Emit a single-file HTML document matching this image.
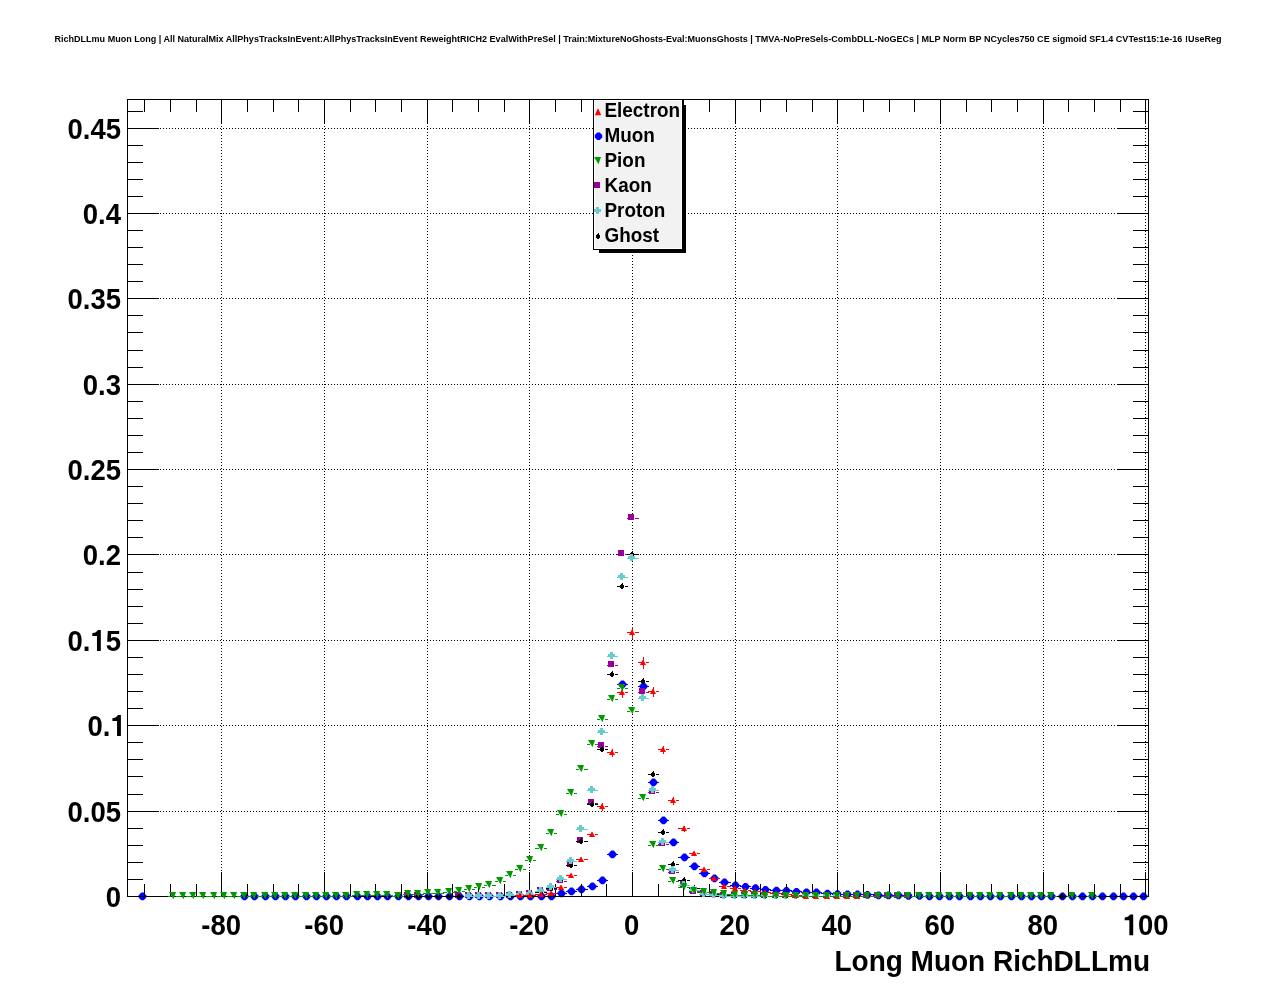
<!DOCTYPE html>
<html><head><meta charset="utf-8"><style>
html,body{margin:0;padding:0;background:#fff;width:1276px;height:996px;overflow:hidden}
svg text{font-family:"Liberation Sans",sans-serif;fill:#000}
svg{will-change:transform}
</style></head><body>
<svg width="1276" height="996" viewBox="0 0 1276 996" style="position:absolute;left:0;top:0">
<rect width="1276" height="996" fill="#fff"/>
<text x="54.5" y="41.8" font-size="9.3" font-weight="bold" textLength="1167" lengthAdjust="spacingAndGlyphs">RichDLLmu Muon Long | All NaturalMix AllPhysTracksInEvent:AllPhysTracksInEvent ReweightRICH2 EvalWithPreSel | Train:MixtureNoGhosts-Eval:MuonsGhosts | TMVA-NoPreSels-CombDLL-NoGECs | MLP Norm BP NCycles750 CE sigmoid SF1.4 CVTest15:1e-16 !UseReg</text>
<path d="M137 896.5H139M146 896.5H148M239 896.5H241M248 896.5H250M249 896.5H251M258 896.5H261M260 896.5H262M269 896.5H271M270 896.5H272M279 896.5H281M280 896.5H282M289 896.5H291M290 896.5H292M299 896.5H301M300 896.5H303M310 896.5H312M311 896.5H313M320 896.5H322M321 896.5H323M330 896.5H332M331 896.5H333M340 896.5H342M341 896.5H343M350 896.5H353M352 896.5H354M361 896.5H363M362 896.5H364M371 896.5H373M372 896.5H374M381 896.5H383M382 896.5H384M391 896.5H393M392 896.5H395M402 896.5H404M403 896.5H405M412 896.5H414M413 896.5H415M422 896.5H424M423 896.5H425M432 896.5H434M433 896.5H435M442 896.5H444M443 896.5H446M453 896.5H455M454 896.5H456M463 896.5H465M464 896.5H466M473 896.5H475M474 896.5H476M483 896.5H485M484 896.5H486M493 896.5H496M495 896.5H497M504 896.5H506M505 896.5H507M514 896.5H516M515 896.5H517M524 896.5H526M525 896.5H527M534 896.5H536M535 896.5H538M545 896.5H547M546 896.5H548M555 896.5H557M556 893.5H558M565 893.5H567M566 891.5H568M575 891.5H577M576 889.5H578M585 889.5H588M587 886.5H589M596 886.5H598M597 880.5H599M606 880.5H608M607 854.5H609M616 854.5H618M617 684.5H619M626 684.5H628M638 686.5H640M647 686.5H649M648 782.5H650M657 782.5H659M658 820.5H660M667 820.5H669M668 842.5H670M677 842.5H679M678 857.5H681M688 857.5H690M689 866.5H691M698 866.5H700M699 873.5H701M708 873.5H710M709 878.5H711M718 878.5H720M719 882.5H721M728 882.5H731M730 885.5H732M739 885.5H741M740 886.5H742M749 886.5H751M750 888.5H752M759 888.5H761M760 889.5H762M769 889.5H771M770 890.5H773M780 890.5H782M781 890.5H783M790 890.5H792M791 891.5H793M800 891.5H802M801 892.5H803M810 892.5H812M811 892.5H813M820 892.5H822M821 893.5H824M831 893.5H833M832 894.5H834M841 894.5H843M842 894.5H844M851 894.5H853M852 894.5H854M861 894.5H863M862 894.5H864M871 894.5H874M873 895.5H875M882 895.5H884M883 895.5H885M892 895.5H894M893 895.5H895M902 895.5H904M903 896.5H905M912 896.5H914M913 896.5H916M923 896.5H925M924 896.5H926M933 896.5H935M934 896.5H936M943 896.5H945M944 896.5H946M953 896.5H955M954 896.5H956M963 896.5H966M965 896.5H967M974 896.5H976M975 896.5H977M984 896.5H986M985 896.5H987M994 896.5H996M995 896.5H997M1004 896.5H1006M1005 896.5H1008M1015 896.5H1017M1016 896.5H1018M1025 896.5H1027M1026 896.5H1028M1035 896.5H1037M1036 896.5H1038M1045 896.5H1047M1046 896.5H1048M1055 896.5H1057M1056 896.5H1059M1066 896.5H1068M1067 896.5H1069M1076 896.5H1078M1077 896.5H1079M1086 896.5H1088M1087 896.5H1089M1096 896.5H1098M1097 896.5H1099M1106 896.5H1109M1108 896.5H1110M1117 896.5H1119M1118 896.5H1120M1127 896.5H1129M1128 896.5H1130M1137 896.5H1139M1138 896.5H1140M1147 896.5H1149" stroke="#0000ff" stroke-width="1" fill="none" shape-rendering="crispEdges"/>
<g fill="#0000ff"><path d="M141.25 892.60L143.75 892.60L146.20 895.15L146.20 897.65L143.75 900.20L141.25 900.20L138.80 897.65L138.80 895.15Z"/><path d="M243.25 892.60L245.75 892.60L248.20 895.15L248.20 897.65L245.75 900.20L243.25 900.20L240.80 897.65L240.80 895.15Z"/><path d="M253.25 892.60L255.75 892.60L258.20 895.15L258.20 897.65L255.75 900.20L253.25 900.20L250.80 897.65L250.80 895.15Z"/><path d="M264.25 892.60L266.75 892.60L269.20 895.15L269.20 897.65L266.75 900.20L264.25 900.20L261.80 897.65L261.80 895.15Z"/><path d="M274.25 892.60L276.75 892.60L279.20 895.15L279.20 897.65L276.75 900.20L274.25 900.20L271.80 897.65L271.80 895.15Z"/><path d="M284.25 892.60L286.75 892.60L289.20 895.15L289.20 897.65L286.75 900.20L284.25 900.20L281.80 897.65L281.80 895.15Z"/><path d="M294.25 892.60L296.75 892.60L299.20 895.15L299.20 897.65L296.75 900.20L294.25 900.20L291.80 897.65L291.80 895.15Z"/><path d="M305.25 892.60L307.75 892.60L310.20 895.15L310.20 897.65L307.75 900.20L305.25 900.20L302.80 897.65L302.80 895.15Z"/><path d="M315.25 892.60L317.75 892.60L320.20 895.15L320.20 897.65L317.75 900.20L315.25 900.20L312.80 897.65L312.80 895.15Z"/><path d="M325.25 892.60L327.75 892.60L330.20 895.15L330.20 897.65L327.75 900.20L325.25 900.20L322.80 897.65L322.80 895.15Z"/><path d="M335.25 892.60L337.75 892.60L340.20 895.15L340.20 897.65L337.75 900.20L335.25 900.20L332.80 897.65L332.80 895.15Z"/><path d="M345.25 892.60L347.75 892.60L350.20 895.15L350.20 897.65L347.75 900.20L345.25 900.20L342.80 897.65L342.80 895.15Z"/><path d="M356.25 892.60L358.75 892.60L361.20 895.15L361.20 897.65L358.75 900.20L356.25 900.20L353.80 897.65L353.80 895.15Z"/><path d="M366.25 892.60L368.75 892.60L371.20 895.15L371.20 897.65L368.75 900.20L366.25 900.20L363.80 897.65L363.80 895.15Z"/><path d="M376.25 892.60L378.75 892.60L381.20 895.15L381.20 897.65L378.75 900.20L376.25 900.20L373.80 897.65L373.80 895.15Z"/><path d="M386.25 892.60L388.75 892.60L391.20 895.15L391.20 897.65L388.75 900.20L386.25 900.20L383.80 897.65L383.80 895.15Z"/><path d="M397.25 892.60L399.75 892.60L402.20 895.15L402.20 897.65L399.75 900.20L397.25 900.20L394.80 897.65L394.80 895.15Z"/><path d="M407.25 892.60L409.75 892.60L412.20 895.15L412.20 897.65L409.75 900.20L407.25 900.20L404.80 897.65L404.80 895.15Z"/><path d="M417.25 892.60L419.75 892.60L422.20 895.15L422.20 897.65L419.75 900.20L417.25 900.20L414.80 897.65L414.80 895.15Z"/><path d="M427.25 892.60L429.75 892.60L432.20 895.15L432.20 897.65L429.75 900.20L427.25 900.20L424.80 897.65L424.80 895.15Z"/><path d="M437.25 892.60L439.75 892.60L442.20 895.15L442.20 897.65L439.75 900.20L437.25 900.20L434.80 897.65L434.80 895.15Z"/><path d="M448.25 892.60L450.75 892.60L453.20 895.15L453.20 897.65L450.75 900.20L448.25 900.20L445.80 897.65L445.80 895.15Z"/><path d="M458.25 892.60L460.75 892.60L463.20 895.15L463.20 897.65L460.75 900.20L458.25 900.20L455.80 897.65L455.80 895.15Z"/><path d="M468.25 892.60L470.75 892.60L473.20 895.15L473.20 897.65L470.75 900.20L468.25 900.20L465.80 897.65L465.80 895.15Z"/><path d="M478.25 892.60L480.75 892.60L483.20 895.15L483.20 897.65L480.75 900.20L478.25 900.20L475.80 897.65L475.80 895.15Z"/><path d="M488.25 892.60L490.75 892.60L493.20 895.15L493.20 897.65L490.75 900.20L488.25 900.20L485.80 897.65L485.80 895.15Z"/><path d="M499.25 892.60L501.75 892.60L504.20 895.15L504.20 897.65L501.75 900.20L499.25 900.20L496.80 897.65L496.80 895.15Z"/><path d="M509.25 892.60L511.75 892.60L514.20 895.15L514.20 897.65L511.75 900.20L509.25 900.20L506.80 897.65L506.80 895.15Z"/><path d="M519.25 892.60L521.75 892.60L524.20 895.15L524.20 897.65L521.75 900.20L519.25 900.20L516.80 897.65L516.80 895.15Z"/><path d="M529.25 892.60L531.75 892.60L534.20 895.15L534.20 897.65L531.75 900.20L529.25 900.20L526.80 897.65L526.80 895.15Z"/><path d="M540.25 892.60L542.75 892.60L545.20 895.15L545.20 897.65L542.75 900.20L540.25 900.20L537.80 897.65L537.80 895.15Z"/><path d="M550.25 892.60L552.75 892.60L555.20 895.15L555.20 897.65L552.75 900.20L550.25 900.20L547.80 897.65L547.80 895.15Z"/><path d="M560.25 889.60L562.75 889.60L565.20 892.15L565.20 894.65L562.75 897.20L560.25 897.20L557.80 894.65L557.80 892.15Z"/><path d="M570.25 887.60L572.75 887.60L575.20 890.15L575.20 892.65L572.75 895.20L570.25 895.20L567.80 892.65L567.80 890.15Z"/><path d="M580.25 885.60L582.75 885.60L585.20 888.15L585.20 890.65L582.75 893.20L580.25 893.20L577.80 890.65L577.80 888.15Z"/><path d="M591.25 882.60L593.75 882.60L596.20 885.15L596.20 887.65L593.75 890.20L591.25 890.20L588.80 887.65L588.80 885.15Z"/><path d="M601.25 876.60L603.75 876.60L606.20 879.15L606.20 881.65L603.75 884.20L601.25 884.20L598.80 881.65L598.80 879.15Z"/><path d="M611.25 850.60L613.75 850.60L616.20 853.15L616.20 855.65L613.75 858.20L611.25 858.20L608.80 855.65L608.80 853.15Z"/><path d="M621.25 680.60L623.75 680.60L626.20 683.15L626.20 685.65L623.75 688.20L621.25 688.20L618.80 685.65L618.80 683.15Z"/><path d="M642.25 682.60L644.75 682.60L647.20 685.15L647.20 687.65L644.75 690.20L642.25 690.20L639.80 687.65L639.80 685.15Z"/><path d="M652.25 778.60L654.75 778.60L657.20 781.15L657.20 783.65L654.75 786.20L652.25 786.20L649.80 783.65L649.80 781.15Z"/><path d="M662.25 816.60L664.75 816.60L667.20 819.15L667.20 821.65L664.75 824.20L662.25 824.20L659.80 821.65L659.80 819.15Z"/><path d="M672.25 838.60L674.75 838.60L677.20 841.15L677.20 843.65L674.75 846.20L672.25 846.20L669.80 843.65L669.80 841.15Z"/><path d="M683.25 853.60L685.75 853.60L688.20 856.15L688.20 858.65L685.75 861.20L683.25 861.20L680.80 858.65L680.80 856.15Z"/><path d="M693.25 862.60L695.75 862.60L698.20 865.15L698.20 867.65L695.75 870.20L693.25 870.20L690.80 867.65L690.80 865.15Z"/><path d="M703.25 869.60L705.75 869.60L708.20 872.15L708.20 874.65L705.75 877.20L703.25 877.20L700.80 874.65L700.80 872.15Z"/><path d="M713.25 874.60L715.75 874.60L718.20 877.15L718.20 879.65L715.75 882.20L713.25 882.20L710.80 879.65L710.80 877.15Z"/><path d="M723.25 878.60L725.75 878.60L728.20 881.15L728.20 883.65L725.75 886.20L723.25 886.20L720.80 883.65L720.80 881.15Z"/><path d="M734.25 881.40L736.75 881.40L739.20 883.95L739.20 886.45L736.75 889.00L734.25 889.00L731.80 886.45L731.80 883.95Z"/><path d="M744.25 882.90L746.75 882.90L749.20 885.45L749.20 887.95L746.75 890.50L744.25 890.50L741.80 887.95L741.80 885.45Z"/><path d="M754.25 884.20L756.75 884.20L759.20 886.75L759.20 889.25L756.75 891.80L754.25 891.80L751.80 889.25L751.80 886.75Z"/><path d="M764.25 886.00L766.75 886.00L769.20 888.55L769.20 891.05L766.75 893.60L764.25 893.60L761.80 891.05L761.80 888.55Z"/><path d="M775.25 886.70L777.75 886.70L780.20 889.25L780.20 891.75L777.75 894.30L775.25 894.30L772.80 891.75L772.80 889.25Z"/><path d="M785.25 887.00L787.75 887.00L790.20 889.55L790.20 892.05L787.75 894.60L785.25 894.60L782.80 892.05L782.80 889.55Z"/><path d="M795.25 887.90L797.75 887.90L800.20 890.45L800.20 892.95L797.75 895.50L795.25 895.50L792.80 892.95L792.80 890.45Z"/><path d="M805.25 888.50L807.75 888.50L810.20 891.05L810.20 893.55L807.75 896.10L805.25 896.10L802.80 893.55L802.80 891.05Z"/><path d="M815.25 888.60L817.75 888.60L820.20 891.15L820.20 893.65L817.75 896.20L815.25 896.20L812.80 893.65L812.80 891.15Z"/><path d="M826.25 889.80L828.75 889.80L831.20 892.35L831.20 894.85L828.75 897.40L826.25 897.40L823.80 894.85L823.80 892.35Z"/><path d="M836.25 890.20L838.75 890.20L841.20 892.75L841.20 895.25L838.75 897.80L836.25 897.80L833.80 895.25L833.80 892.75Z"/><path d="M846.25 890.40L848.75 890.40L851.20 892.95L851.20 895.45L848.75 898.00L846.25 898.00L843.80 895.45L843.80 892.95Z"/><path d="M856.25 890.60L858.75 890.60L861.20 893.15L861.20 895.65L858.75 898.20L856.25 898.20L853.80 895.65L853.80 893.15Z"/><path d="M866.25 891.10L868.75 891.10L871.20 893.65L871.20 896.15L868.75 898.70L866.25 898.70L863.80 896.15L863.80 893.65Z"/><path d="M877.25 891.60L879.75 891.60L882.20 894.15L882.20 896.65L879.75 899.20L877.25 899.20L874.80 896.65L874.80 894.15Z"/><path d="M887.25 891.60L889.75 891.60L892.20 894.15L892.20 896.65L889.75 899.20L887.25 899.20L884.80 896.65L884.80 894.15Z"/><path d="M897.25 891.60L899.75 891.60L902.20 894.15L902.20 896.65L899.75 899.20L897.25 899.20L894.80 896.65L894.80 894.15Z"/><path d="M907.25 892.10L909.75 892.10L912.20 894.65L912.20 897.15L909.75 899.70L907.25 899.70L904.80 897.15L904.80 894.65Z"/><path d="M918.25 892.10L920.75 892.10L923.20 894.65L923.20 897.15L920.75 899.70L918.25 899.70L915.80 897.15L915.80 894.65Z"/><path d="M928.25 892.60L930.75 892.60L933.20 895.15L933.20 897.65L930.75 900.20L928.25 900.20L925.80 897.65L925.80 895.15Z"/><path d="M938.25 892.60L940.75 892.60L943.20 895.15L943.20 897.65L940.75 900.20L938.25 900.20L935.80 897.65L935.80 895.15Z"/><path d="M948.25 892.60L950.75 892.60L953.20 895.15L953.20 897.65L950.75 900.20L948.25 900.20L945.80 897.65L945.80 895.15Z"/><path d="M958.25 892.60L960.75 892.60L963.20 895.15L963.20 897.65L960.75 900.20L958.25 900.20L955.80 897.65L955.80 895.15Z"/><path d="M969.25 892.60L971.75 892.60L974.20 895.15L974.20 897.65L971.75 900.20L969.25 900.20L966.80 897.65L966.80 895.15Z"/><path d="M979.25 892.60L981.75 892.60L984.20 895.15L984.20 897.65L981.75 900.20L979.25 900.20L976.80 897.65L976.80 895.15Z"/><path d="M989.25 892.60L991.75 892.60L994.20 895.15L994.20 897.65L991.75 900.20L989.25 900.20L986.80 897.65L986.80 895.15Z"/><path d="M999.25 892.60L1001.75 892.60L1004.20 895.15L1004.20 897.65L1001.75 900.20L999.25 900.20L996.80 897.65L996.80 895.15Z"/><path d="M1010.25 892.60L1012.75 892.60L1015.20 895.15L1015.20 897.65L1012.75 900.20L1010.25 900.20L1007.80 897.65L1007.80 895.15Z"/><path d="M1020.25 892.60L1022.75 892.60L1025.20 895.15L1025.20 897.65L1022.75 900.20L1020.25 900.20L1017.80 897.65L1017.80 895.15Z"/><path d="M1030.25 892.60L1032.75 892.60L1035.20 895.15L1035.20 897.65L1032.75 900.20L1030.25 900.20L1027.80 897.65L1027.80 895.15Z"/><path d="M1040.25 892.60L1042.75 892.60L1045.20 895.15L1045.20 897.65L1042.75 900.20L1040.25 900.20L1037.80 897.65L1037.80 895.15Z"/><path d="M1050.25 892.60L1052.75 892.60L1055.20 895.15L1055.20 897.65L1052.75 900.20L1050.25 900.20L1047.80 897.65L1047.80 895.15Z"/><path d="M1061.25 892.60L1063.75 892.60L1066.20 895.15L1066.20 897.65L1063.75 900.20L1061.25 900.20L1058.80 897.65L1058.80 895.15Z"/><path d="M1071.25 892.60L1073.75 892.60L1076.20 895.15L1076.20 897.65L1073.75 900.20L1071.25 900.20L1068.80 897.65L1068.80 895.15Z"/><path d="M1081.25 892.60L1083.75 892.60L1086.20 895.15L1086.20 897.65L1083.75 900.20L1081.25 900.20L1078.80 897.65L1078.80 895.15Z"/><path d="M1091.25 892.60L1093.75 892.60L1096.20 895.15L1096.20 897.65L1093.75 900.20L1091.25 900.20L1088.80 897.65L1088.80 895.15Z"/><path d="M1101.25 892.60L1103.75 892.60L1106.20 895.15L1106.20 897.65L1103.75 900.20L1101.25 900.20L1098.80 897.65L1098.80 895.15Z"/><path d="M1112.25 892.60L1114.75 892.60L1117.20 895.15L1117.20 897.65L1114.75 900.20L1112.25 900.20L1109.80 897.65L1109.80 895.15Z"/><path d="M1122.25 892.60L1124.75 892.60L1127.20 895.15L1127.20 897.65L1124.75 900.20L1122.25 900.20L1119.80 897.65L1119.80 895.15Z"/><path d="M1132.25 892.60L1134.75 892.60L1137.20 895.15L1137.20 897.65L1134.75 900.20L1132.25 900.20L1129.80 897.65L1129.80 895.15Z"/><path d="M1142.25 892.60L1144.75 892.60L1147.20 895.15L1147.20 897.65L1144.75 900.20L1142.25 900.20L1139.80 897.65L1139.80 895.15Z"/></g>
<path d="M221.5 99V896M324.5 99V896M427.5 99V896M529.5 99V896M632.5 99V896M735.5 99V896M837.5 99V896M940.5 99V896M1043.5 99V896M1145.5 99V896M127 896.5H1149M127 811.5H1149M127 725.5H1149M127 640.5H1149M127 554.5H1149M127 469.5H1149M127 384.5H1149M127 298.5H1149M127 213.5H1149M127 128.5H1149" stroke="#000" stroke-width="1" stroke-dasharray="1 2" fill="none" shape-rendering="crispEdges"/>
<path d="M144.5 897V884M144.5 99V112M170.5 897V884M170.5 99V112M196.5 897V884M196.5 99V112M221.5 897V872M221.5 99V124M247.5 897V884M247.5 99V112M273.5 897V884M273.5 99V112M298.5 897V884M298.5 99V112M324.5 897V872M324.5 99V124M350.5 897V884M350.5 99V112M375.5 897V884M375.5 99V112M401.5 897V884M401.5 99V112M427.5 897V872M427.5 99V124M452.5 897V884M452.5 99V112M478.5 897V884M478.5 99V112M504.5 897V884M504.5 99V112M529.5 897V872M529.5 99V124M555.5 897V884M555.5 99V112M581.5 897V884M581.5 99V112M606.5 897V884M606.5 99V112M632.5 897V872M632.5 99V124M658.5 897V884M658.5 99V112M683.5 897V884M683.5 99V112M709.5 897V884M709.5 99V112M735.5 897V872M735.5 99V124M760.5 897V884M760.5 99V112M786.5 897V884M786.5 99V112M812.5 897V884M812.5 99V112M837.5 897V872M837.5 99V124M863.5 897V884M863.5 99V112M889.5 897V884M889.5 99V112M914.5 897V884M914.5 99V112M940.5 897V872M940.5 99V124M966.5 897V884M966.5 99V112M991.5 897V884M991.5 99V112M1017.5 897V884M1017.5 99V112M1043.5 897V872M1043.5 99V124M1068.5 897V884M1068.5 99V112M1094.5 897V884M1094.5 99V112M1120.5 897V884M1120.5 99V112M1145.5 897V872M1145.5 99V124M127 896.5H159M1149 896.5H1117M127 879.5H143M1149 879.5H1133M127 862.5H143M1149 862.5H1133M127 845.5H143M1149 845.5H1133M127 828.5H143M1149 828.5H1133M127 811.5H159M1149 811.5H1117M127 794.5H143M1149 794.5H1133M127 776.5H143M1149 776.5H1133M127 759.5H143M1149 759.5H1133M127 742.5H143M1149 742.5H1133M127 725.5H159M1149 725.5H1117M127 708.5H143M1149 708.5H1133M127 691.5H143M1149 691.5H1133M127 674.5H143M1149 674.5H1133M127 657.5H143M1149 657.5H1133M127 640.5H159M1149 640.5H1117M127 623.5H143M1149 623.5H1133M127 606.5H143M1149 606.5H1133M127 589.5H143M1149 589.5H1133M127 572.5H143M1149 572.5H1133M127 554.5H159M1149 554.5H1117M127 537.5H143M1149 537.5H1133M127 520.5H143M1149 520.5H1133M127 503.5H143M1149 503.5H1133M127 486.5H143M1149 486.5H1133M127 469.5H159M1149 469.5H1117M127 452.5H143M1149 452.5H1133M127 435.5H143M1149 435.5H1133M127 418.5H143M1149 418.5H1133M127 401.5H143M1149 401.5H1133M127 384.5H159M1149 384.5H1117M127 367.5H143M1149 367.5H1133M127 350.5H143M1149 350.5H1133M127 332.5H143M1149 332.5H1133M127 315.5H143M1149 315.5H1133M127 298.5H159M1149 298.5H1117M127 281.5H143M1149 281.5H1133M127 264.5H143M1149 264.5H1133M127 247.5H143M1149 247.5H1133M127 230.5H143M1149 230.5H1133M127 213.5H159M1149 213.5H1117M127 196.5H143M1149 196.5H1133M127 179.5H143M1149 179.5H1133M127 162.5H143M1149 162.5H1133M127 145.5H143M1149 145.5H1133M127 128.5H159M1149 128.5H1117M127 111.5H143M1149 111.5H1133" stroke="#000" stroke-width="1" fill="none" shape-rendering="crispEdges"/>
<rect x="127.5" y="99.5" width="1021" height="797" fill="none" stroke="#000" stroke-width="1" shape-rendering="crispEdges"/>
<g font-size="27.5" font-weight="bold">
<text text-anchor="end" transform="translate(121 907.1) scale(1 1.09)">0</text>
<text text-anchor="end" transform="translate(121 822.1) scale(1 1.09)">0.05</text>
<g transform="translate(0 736.1) scale(1 1.09)"><text x="87.57" y="0">0.</text><path d="M117.05 0.00L120.90 0.00L120.90 -19.25L117.99 -19.25L116.97 -18.15L115.46 -17.11L112.40 -16.28L112.40 -13.80L117.05 -13.80Z" fill="#000"/></g>
<g transform="translate(0 651.1) scale(1 1.09)"><text x="67.48" y="0">0.</text><path d="M96.96 0.00L100.81 0.00L100.81 -19.25L97.90 -19.25L96.88 -18.15L95.37 -17.11L92.32 -16.28L92.32 -13.80L96.96 -13.80Z" fill="#000"/><text x="105.71" y="0">5</text></g>
<text text-anchor="end" transform="translate(121 565.1) scale(1 1.09)">0.2</text>
<text text-anchor="end" transform="translate(121 480.1) scale(1 1.09)">0.25</text>
<text text-anchor="end" transform="translate(121 395.1) scale(1 1.09)">0.3</text>
<text text-anchor="end" transform="translate(121 309.1) scale(1 1.09)">0.35</text>
<text text-anchor="end" transform="translate(121 224.1) scale(1 1.09)">0.4</text>
<text text-anchor="end" transform="translate(121 139.1) scale(1 1.09)">0.45</text>
</g>
<g font-size="27.5" font-weight="bold" text-anchor="middle">
<text transform="translate(221.1 935.2) scale(1 1.08)">-80</text>
<text transform="translate(324.1 935.2) scale(1 1.08)">-60</text>
<text transform="translate(427.1 935.2) scale(1 1.08)">-40</text>
<text transform="translate(529.1 935.2) scale(1 1.08)">-20</text>
<text transform="translate(631.75 935.2) scale(1 1.08)">0</text>
<text transform="translate(734.75 935.2) scale(1 1.08)">20</text>
<text transform="translate(836.75 935.2) scale(1 1.08)">40</text>
<text transform="translate(939.75 935.2) scale(1 1.08)">60</text>
<text transform="translate(1042.75 935.2) scale(1 1.08)">80</text>
<g transform="translate(0 935.2) scale(1 1.08)"><path d="M1129.35 0.00L1133.19 0.00L1133.19 -19.25L1130.28 -19.25L1129.26 -18.15L1127.75 -17.11L1124.70 -16.28L1124.70 -13.80L1129.35 -13.80Z" fill="#000"/><text text-anchor="start" x="1138.09" y="0">00</text></g>
</g>
<text transform="translate(1150 971) scale(1 1.03)" font-size="28" font-weight="bold" text-anchor="end">Long Muon RichDLLmu</text>
<path d="M403 896.5H404M411 896.5H414M413 896.5H414M421 896.5H424M454 896.5H455M462 896.5H465M464 896.5H465M472 896.5H475M474 896.5H475M482 896.5H485M484 896.5H485M492 896.5H496M495 896.5H496M503 896.5H506M505 896.5H506M513 896.5H516M515 895.5H516M523 895.5H526M525 894.5H526M533 894.5H536M535 891.5H537M544 891.5H547M546 889.5H547M554 889.5H557M556 881.5H557M564 881.5H567M566 865.5H567M574 865.5H577M576 841.5H577M584 841.5H588M587 803.5H588M595 803.5H598M597 746.5H598M605 746.5H608M607 665.5H608M615 665.5H618M617 554.5H618M625 554.5H628M627 518.5H628M635 518.5H639M638 692.5H639M646 692.5H649M648 792.5H649M656 792.5H659M658 844.5H659M666 844.5H669M668 872.5H669M676 872.5H679M678 885.5H680M687 885.5H690M689 892.5H690M697 892.5H700M699 894.5H700M707 894.5H710M709 895.5H710M717 895.5H720M719 896.5H720M727 896.5H731M730 896.5H731M738 896.5H741M740 896.5H741M748 896.5H751M750 896.5H751M758 896.5H761M760 896.5H761M768 896.5H771M770 896.5H772M779 896.5H782M781 896.5H782M789 896.5H792M791 896.5H792M799 896.5H802M801 896.5H802M809 896.5H812M811 896.5H812M819 896.5H822M821 896.5H823M830 896.5H833M832 896.5H833M840 896.5H843M842 896.5H843M850 896.5H853M852 896.5H853M860 896.5H863M862 896.5H863M870 896.5H874M873 896.5H874M881 896.5H884M883 896.5H884M891 896.5H894M893 896.5H894M901 896.5H904M903 896.5H904M911 896.5H914" stroke="#990099" stroke-width="1" fill="none" shape-rendering="crispEdges"/>
<g fill="#990099" shape-rendering="crispEdges"><rect x="404" y="892" width="6" height="6"/><rect x="414" y="892" width="6" height="6"/><rect x="455" y="892" width="6" height="6"/><rect x="465" y="892" width="6" height="6"/><rect x="475" y="892" width="6" height="6"/><rect x="485" y="892" width="6" height="6"/><rect x="496" y="892" width="6" height="6"/><rect x="506" y="892" width="6" height="6"/><rect x="516" y="891" width="6" height="6"/><rect x="526" y="890" width="6" height="6"/><rect x="537" y="887" width="6" height="6"/><rect x="547" y="885" width="6" height="6"/><rect x="557" y="877" width="6" height="6"/><rect x="567" y="861" width="6" height="6"/><rect x="577" y="837" width="6" height="6"/><rect x="588" y="799" width="6" height="6"/><rect x="598" y="742" width="6" height="6"/><rect x="608" y="661" width="6" height="6"/><rect x="618" y="550" width="6" height="6"/><rect x="628" y="514" width="6" height="6"/><rect x="639" y="688" width="6" height="6"/><rect x="649" y="788" width="6" height="6"/><rect x="659" y="840" width="6" height="6"/><rect x="669" y="868" width="6" height="6"/><rect x="680" y="881" width="6" height="6"/><rect x="690" y="888" width="6" height="6"/><rect x="700" y="890" width="6" height="6"/><rect x="710" y="891" width="6" height="6"/><rect x="720" y="892" width="6" height="6"/><rect x="731" y="892" width="6" height="6"/><rect x="741" y="892" width="6" height="6"/><rect x="751" y="892" width="6" height="6"/><rect x="761" y="892" width="6" height="6"/><rect x="772" y="892" width="6" height="6"/><rect x="782" y="892" width="6" height="6"/><rect x="792" y="892" width="6" height="6"/><rect x="802" y="892" width="6" height="6"/><rect x="812" y="892" width="6" height="6"/><rect x="823" y="892" width="6" height="6"/><rect x="833" y="892" width="6" height="6"/><rect x="843" y="892" width="6" height="6"/><rect x="853" y="892" width="6" height="6"/><rect x="863" y="892" width="6" height="6"/><rect x="874" y="892" width="6" height="6"/><rect x="884" y="892" width="6" height="6"/><rect x="894" y="892" width="6" height="6"/><rect x="904" y="892" width="6" height="6"/></g>
<path d="M392 896.5H396M401 896.5H404M403 896.5H406M411 896.5H414M413 896.5H416M421 896.5H424M423 896.5H426M431 896.5H434M433 896.5H436M441 896.5H444M443 896.5H447M452 896.5H455M454 896.5H457M462 896.5H465M464 896.5H467M472 896.5H475M474 896.5H477M482 896.5H485M484 896.5H487M492 896.5H496M495 896.5H498M503 896.5H506M505 896.5H508M513 896.5H516M515 895.5H518M523 895.5H526M525 894.5H528M533 894.5H536M535 892.5H539M544 892.5H547M546 888.5H549M554 888.5H557M556 879.5H559M564 879.5H567M566 865.5H569M574 865.5H577M576 841.5H579M584 841.5H588M587 804.5H590M595 804.5H598M597 749.5H600M605 749.5H608M607 674.5H610M615 674.5H618M617 586.5H620M625 586.5H628M627 554.5H630M635 554.5H639M638 681.5H641M646 681.5H649M648 774.5H651M656 774.5H659M658 832.5H661M666 832.5H669M668 864.5H671M676 864.5H679M678 880.5H682M687 880.5H690M689 888.5H692M697 888.5H700M699 892.5H702M707 892.5H710M709 894.5H712M717 894.5H720M719 895.5H722M727 895.5H731M730 896.5H733M738 896.5H741M740 896.5H743M748 896.5H751M750 896.5H753M758 896.5H761M760 896.5H763M768 896.5H771M770 896.5H774M779 896.5H782M781 896.5H784M789 896.5H792M791 896.5H794M799 896.5H802M801 896.5H804M809 896.5H812M811 896.5H814M819 896.5H822M821 896.5H825M830 896.5H833M832 896.5H835M840 896.5H843M1056 896.5H1060M1065 896.5H1068" stroke="#000000" stroke-width="1" fill="none" shape-rendering="crispEdges"/>
<g fill="#000000" shape-rendering="crispEdges"><path d="M398 893h1v1h-1zM397 894h2v1h-2zM396 895h4v3h-4zM397 898h2v1h-2z"/><path d="M408 893h1v1h-1zM407 894h2v1h-2zM406 895h4v3h-4zM407 898h2v1h-2z"/><path d="M418 893h1v1h-1zM417 894h2v1h-2zM416 895h4v3h-4zM417 898h2v1h-2z"/><path d="M428 893h1v1h-1zM427 894h2v1h-2zM426 895h4v3h-4zM427 898h2v1h-2z"/><path d="M438 893h1v1h-1zM437 894h2v1h-2zM436 895h4v3h-4zM437 898h2v1h-2z"/><path d="M449 893h1v1h-1zM448 894h2v1h-2zM447 895h4v3h-4zM448 898h2v1h-2z"/><path d="M459 893h1v1h-1zM458 894h2v1h-2zM457 895h4v3h-4zM458 898h2v1h-2z"/><path d="M469 893h1v1h-1zM468 894h2v1h-2zM467 895h4v3h-4zM468 898h2v1h-2z"/><path d="M479 893h1v1h-1zM478 894h2v1h-2zM477 895h4v3h-4zM478 898h2v1h-2z"/><path d="M489 893h1v1h-1zM488 894h2v1h-2zM487 895h4v3h-4zM488 898h2v1h-2z"/><path d="M500 893h1v1h-1zM499 894h2v1h-2zM498 895h4v3h-4zM499 898h2v1h-2z"/><path d="M510 893h1v1h-1zM509 894h2v1h-2zM508 895h4v3h-4zM509 898h2v1h-2z"/><path d="M520 892h1v1h-1zM519 893h2v1h-2zM518 894h4v3h-4zM519 897h2v1h-2z"/><path d="M530 891h1v1h-1zM529 892h2v1h-2zM528 893h4v3h-4zM529 896h2v1h-2z"/><path d="M541 889h1v1h-1zM540 890h2v1h-2zM539 891h4v3h-4zM540 894h2v1h-2z"/><path d="M551 885h1v1h-1zM550 886h2v1h-2zM549 887h4v3h-4zM550 890h2v1h-2z"/><path d="M561 876h1v1h-1zM560 877h2v1h-2zM559 878h4v3h-4zM560 881h2v1h-2z"/><path d="M571 862h1v1h-1zM570 863h2v1h-2zM569 864h4v3h-4zM570 867h2v1h-2z"/><path d="M581 838h1v1h-1zM580 839h2v1h-2zM579 840h4v3h-4zM580 843h2v1h-2z"/><path d="M592 801h1v1h-1zM591 802h2v1h-2zM590 803h4v3h-4zM591 806h2v1h-2z"/><path d="M602 746h1v1h-1zM601 747h2v1h-2zM600 748h4v3h-4zM601 751h2v1h-2z"/><path d="M612 671h1v1h-1zM611 672h2v1h-2zM610 673h4v3h-4zM611 676h2v1h-2z"/><path d="M622 583h1v1h-1zM621 584h2v1h-2zM620 585h4v3h-4zM621 588h2v1h-2z"/><path d="M632 551h1v1h-1zM631 552h2v1h-2zM630 553h4v3h-4zM631 556h2v1h-2z"/><path d="M643 678h1v1h-1zM642 679h2v1h-2zM641 680h4v3h-4zM642 683h2v1h-2z"/><path d="M653 771h1v1h-1zM652 772h2v1h-2zM651 773h4v3h-4zM652 776h2v1h-2z"/><path d="M663 829h1v1h-1zM662 830h2v1h-2zM661 831h4v3h-4zM662 834h2v1h-2z"/><path d="M673 861h1v1h-1zM672 862h2v1h-2zM671 863h4v3h-4zM672 866h2v1h-2z"/><path d="M684 877h1v1h-1zM683 878h2v1h-2zM682 879h4v3h-4zM683 882h2v1h-2z"/><path d="M694 885h1v1h-1zM693 886h2v1h-2zM692 887h4v3h-4zM693 890h2v1h-2z"/><path d="M704 889h1v1h-1zM703 890h2v1h-2zM702 891h4v3h-4zM703 894h2v1h-2z"/><path d="M714 891h1v1h-1zM713 892h2v1h-2zM712 893h4v3h-4zM713 896h2v1h-2z"/><path d="M724 892h1v1h-1zM723 893h2v1h-2zM722 894h4v3h-4zM723 897h2v1h-2z"/><path d="M735 893h1v1h-1zM734 894h2v1h-2zM733 895h4v3h-4zM734 898h2v1h-2z"/><path d="M745 893h1v1h-1zM744 894h2v1h-2zM743 895h4v3h-4zM744 898h2v1h-2z"/><path d="M755 893h1v1h-1zM754 894h2v1h-2zM753 895h4v3h-4zM754 898h2v1h-2z"/><path d="M765 893h1v1h-1zM764 894h2v1h-2zM763 895h4v3h-4zM764 898h2v1h-2z"/><path d="M776 893h1v1h-1zM775 894h2v1h-2zM774 895h4v3h-4zM775 898h2v1h-2z"/><path d="M786 893h1v1h-1zM785 894h2v1h-2zM784 895h4v3h-4zM785 898h2v1h-2z"/><path d="M796 893h1v1h-1zM795 894h2v1h-2zM794 895h4v3h-4zM795 898h2v1h-2z"/><path d="M806 893h1v1h-1zM805 894h2v1h-2zM804 895h4v3h-4zM805 898h2v1h-2z"/><path d="M816 893h1v1h-1zM815 894h2v1h-2zM814 895h4v3h-4zM815 898h2v1h-2z"/><path d="M827 893h1v1h-1zM826 894h2v1h-2zM825 895h4v3h-4zM826 898h2v1h-2z"/><path d="M837 893h1v1h-1zM836 894h2v1h-2zM835 895h4v3h-4zM836 898h2v1h-2z"/><path d="M1062 893h1v1h-1zM1061 894h2v1h-2zM1060 895h4v3h-4zM1061 898h2v1h-2z"/></g>
<path d="M464 896.5H475M474 896.5H485M484 896.5H496M495 896.5H506M505 895.5H516M515 895.5H526M525 894.5H536M535 891.5H547M546 887.5H557M556 879.5H567M566 861.5H577M576 829.5H588M587 790.5H598M597 732.5H608M607 656.5H618M617 577.5H628M627 558.5H639M638 698.5H649M648 790.5H659M658 842.5H669M668 870.5H679M678 885.5H690M689 890.5H700M699 894.5H710M709 895.5H720M719 896.5H731M730 896.5H741M740 896.5H751M750 896.5H761M760 896.5H771M770 896.5H782M781 896.5H792M791 896.5H802M801 896.5H812M811 896.5H822M821 896.5H833M832 896.5H843" stroke="#66cccc" stroke-width="1" fill="none" shape-rendering="crispEdges"/>
<g fill="#66cccc" shape-rendering="crispEdges"><path d="M467 892h3v2h2v3h-2v2h-3v-2h-2v-3h2z"/><path d="M477 892h3v2h2v3h-2v2h-3v-2h-2v-3h2z"/><path d="M487 892h3v2h2v3h-2v2h-3v-2h-2v-3h2z"/><path d="M498 892h3v2h2v3h-2v2h-3v-2h-2v-3h2z"/><path d="M508 891h3v2h2v3h-2v2h-3v-2h-2v-3h2z"/><path d="M518 891h3v2h2v3h-2v2h-3v-2h-2v-3h2z"/><path d="M528 890h3v2h2v3h-2v2h-3v-2h-2v-3h2z"/><path d="M539 887h3v2h2v3h-2v2h-3v-2h-2v-3h2z"/><path d="M549 883h3v2h2v3h-2v2h-3v-2h-2v-3h2z"/><path d="M559 875h3v2h2v3h-2v2h-3v-2h-2v-3h2z"/><path d="M569 857h3v2h2v3h-2v2h-3v-2h-2v-3h2z"/><path d="M579 825h3v2h2v3h-2v2h-3v-2h-2v-3h2z"/><path d="M590 786h3v2h2v3h-2v2h-3v-2h-2v-3h2z"/><path d="M600 728h3v2h2v3h-2v2h-3v-2h-2v-3h2z"/><path d="M610 652h3v2h2v3h-2v2h-3v-2h-2v-3h2z"/><path d="M620 573h3v2h2v3h-2v2h-3v-2h-2v-3h2z"/><path d="M630 554h3v2h2v3h-2v2h-3v-2h-2v-3h2z"/><path d="M641 694h3v2h2v3h-2v2h-3v-2h-2v-3h2z"/><path d="M651 786h3v2h2v3h-2v2h-3v-2h-2v-3h2z"/><path d="M661 838h3v2h2v3h-2v2h-3v-2h-2v-3h2z"/><path d="M671 866h3v2h2v3h-2v2h-3v-2h-2v-3h2z"/><path d="M682 881h3v2h2v3h-2v2h-3v-2h-2v-3h2z"/><path d="M692 886h3v2h2v3h-2v2h-3v-2h-2v-3h2z"/><path d="M702 890h3v2h2v3h-2v2h-3v-2h-2v-3h2z"/><path d="M712 891h3v2h2v3h-2v2h-3v-2h-2v-3h2z"/><path d="M722 892h3v2h2v3h-2v2h-3v-2h-2v-3h2z"/><path d="M733 892h3v2h2v3h-2v2h-3v-2h-2v-3h2z"/><path d="M743 892h3v2h2v3h-2v2h-3v-2h-2v-3h2z"/><path d="M753 892h3v2h2v3h-2v2h-3v-2h-2v-3h2z"/><path d="M763 892h3v2h2v3h-2v2h-3v-2h-2v-3h2z"/><path d="M774 892h3v2h2v3h-2v2h-3v-2h-2v-3h2z"/><path d="M784 892h3v2h2v3h-2v2h-3v-2h-2v-3h2z"/><path d="M794 892h3v2h2v3h-2v2h-3v-2h-2v-3h2z"/><path d="M804 892h3v2h2v3h-2v2h-3v-2h-2v-3h2z"/><path d="M814 892h3v2h2v3h-2v2h-3v-2h-2v-3h2z"/><path d="M825 892h3v2h2v3h-2v2h-3v-2h-2v-3h2z"/><path d="M835 892h3v2h2v3h-2v2h-3v-2h-2v-3h2z"/></g>
<path d="M515 895.5H519M523 895.5H526M525 895.5H529M533 895.5H536M535 894.5H540M544 894.5H547M546 893.5H550M554 893.5H557M556 887.5H560M564 887.5H567M566 875.5H570M574 875.5H577M576 859.5H580M584 859.5H588M587 834.5H591M595 834.5H598M597 806.5H601M605 806.5H608M602.5 803V811M607 752.5H611M615 752.5H618M612.5 749V757M617 692.5H621M625 692.5H628M622.5 688V698M627 632.5H631M635 632.5H639M632.5 627V639M638 662.5H642M646 662.5H649M643.5 657V669M648 691.5H652M656 691.5H659M653.5 687V697M658 749.5H662M666 749.5H669M663.5 746V754M668 800.5H672M676 800.5H679M673.5 797V805M678 828.5H683M687 828.5H690M684.5 826V832M689 853.5H693M697 853.5H700M699 869.5H703M707 869.5H710M709 878.5H713M717 878.5H720M719 886.5H723M727 886.5H731M730 888.5H734M738 888.5H741M740 890.5H744M748 890.5H751M750 891.5H754M758 891.5H761M760 892.5H764M768 892.5H771M770 893.5H775M779 893.5H782M781 894.5H785M789 894.5H792M791 895.5H795M799 895.5H802M801 896.5H805M809 896.5H812M811 896.5H815M819 896.5H822M821 896.5H826M830 896.5H833M832 896.5H836M840 896.5H843M842 896.5H846M850 896.5H853M852 896.5H856M860 896.5H863" stroke="#ff0000" stroke-width="1" fill="none" shape-rendering="crispEdges"/>
<g fill="#ff0000"><path d="M519.7 892.7L520.3 892.7L523 898L517 898Z"/><path d="M529.7 892.7L530.3 892.7L533 898L527 898Z"/><path d="M540.7 891.7L541.3 891.7L544 897L538 897Z"/><path d="M550.7 890.7L551.3 890.7L554 896L548 896Z"/><path d="M560.7 884.7L561.3 884.7L564 890L558 890Z"/><path d="M570.7 872.7L571.3 872.7L574 878L568 878Z"/><path d="M580.7 856.7L581.3 856.7L584 862L578 862Z"/><path d="M591.7 831.7L592.3 831.7L595 837L589 837Z"/><path d="M601.7 803.7L602.3 803.7L605 809L599 809Z"/><path d="M611.7 749.7L612.3 749.7L615 755L609 755Z"/><path d="M621.7 689.7L622.3 689.7L625 695L619 695Z"/><path d="M631.7 629.7L632.3 629.7L635 635L629 635Z"/><path d="M642.7 659.7L643.3 659.7L646 665L640 665Z"/><path d="M652.7 688.7L653.3 688.7L656 694L650 694Z"/><path d="M662.7 746.7L663.3 746.7L666 752L660 752Z"/><path d="M672.7 797.7L673.3 797.7L676 803L670 803Z"/><path d="M683.7 825.7L684.3 825.7L687 831L681 831Z"/><path d="M693.7 850.7L694.3 850.7L697 856L691 856Z"/><path d="M703.7 866.7L704.3 866.7L707 872L701 872Z"/><path d="M713.7 875.7L714.3 875.7L717 881L711 881Z"/><path d="M723.7 883.7L724.3 883.7L727 889L721 889Z"/><path d="M734.7 885.7L735.3 885.7L738 891L732 891Z"/><path d="M744.7 887.7L745.3 887.7L748 893L742 893Z"/><path d="M754.7 888.7L755.3 888.7L758 894L752 894Z"/><path d="M764.7 889.7L765.3 889.7L768 895L762 895Z"/><path d="M775.7 890.7L776.3 890.7L779 896L773 896Z"/><path d="M785.7 891.7L786.3 891.7L789 897L783 897Z"/><path d="M795.7 892.7L796.3 892.7L799 898L793 898Z"/><path d="M805.7 893.7L806.3 893.7L809 899L803 899Z"/><path d="M815.7 893.7L816.3 893.7L819 899L813 899Z"/><path d="M826.7 893.7L827.3 893.7L830 899L824 899Z"/><path d="M836.7 893.7L837.3 893.7L840 899L834 899Z"/><path d="M846.7 893.7L847.3 893.7L850 899L844 899Z"/><path d="M856.7 893.7L857.3 893.7L860 899L854 899Z"/></g>
<path d="M168 896.5H171M176 896.5H179M178 896.5H181M186 896.5H189M188 896.5H191M196 896.5H199M198 896.5H201M206 896.5H209M208 896.5H212M217 896.5H220M219 896.5H222M227 896.5H230M229 896.5H232M237 896.5H240M239 896.5H242M247 896.5H250M249 896.5H252M257 896.5H261M260 896.5H263M268 896.5H271M270 896.5H273M278 896.5H281M280 896.5H283M288 896.5H291M290 896.5H293M298 896.5H301M300 896.5H304M309 896.5H312M311 896.5H314M319 896.5H322M321 896.5H324M329 896.5H332M331 896.5H334M339 896.5H342M341 896.5H344M349 896.5H353M352 895.5H355M360 895.5H363M362 895.5H365M370 895.5H373M372 895.5H375M380 895.5H383M382 895.5H385M390 895.5H393M392 896.5H396M401 896.5H404M403 894.5H406M411 894.5H414M413 894.5H416M421 894.5H424M423 893.5H426M431 893.5H434M433 893.5H436M441 893.5H444M443 892.5H447M452 892.5H455M454 891.5H457M462 891.5H465M464 889.5H467M472 889.5H475M474 887.5H477M482 887.5H485M484 885.5H487M492 885.5H496M495 881.5H498M503 881.5H506M505 875.5H508M513 875.5H516M515 869.5H518M523 869.5H526M525 860.5H528M533 860.5H536M535 848.5H539M544 848.5H547M546 833.5H549M554 833.5H557M556 814.5H559M564 814.5H567M566 793.5H569M574 793.5H577M576 769.5H579M584 769.5H588M587 744.5H590M595 744.5H598M597 719.5H600M605 719.5H608M607 699.5H610M615 699.5H618M617 688.5H620M625 688.5H628M627 711.5H630M635 711.5H639M638 798.5H641M646 798.5H649M648 845.5H651M656 845.5H659M658 869.5H661M666 869.5H669M668 881.5H671M676 881.5H679M678 887.5H682M687 887.5H690M689 891.5H692M697 891.5H700M699 892.5H702M707 892.5H710M709 893.5H712M717 893.5H720M719 894.5H722M727 894.5H731M730 895.5H733M738 895.5H741M740 895.5H743M748 895.5H751M750 895.5H753M758 895.5H761M760 896.5H763M768 896.5H771M770 896.5H774M779 896.5H782M781 896.5H784M789 896.5H792M791 896.5H794M799 896.5H802M801 896.5H804M809 896.5H812M811 896.5H814M819 896.5H822M821 896.5H825M830 896.5H833M832 896.5H835M840 896.5H843M842 896.5H845M850 896.5H853M852 896.5H855M860 896.5H863M862 896.5H865M870 896.5H874M873 896.5H876M881 896.5H884M883 896.5H886M891 896.5H894M893 896.5H896M901 896.5H904M903 896.5H906M911 896.5H914M913 896.5H917M922 896.5H925M924 896.5H927M932 896.5H935M934 896.5H937M942 896.5H945M944 896.5H947M952 896.5H955M954 896.5H957M962 896.5H966M965 896.5H968M973 896.5H976M975 896.5H978M983 896.5H986M985 896.5H988M993 896.5H996M995 896.5H998M1003 896.5H1006M1005 896.5H1009M1014 896.5H1017M1016 896.5H1019M1024 896.5H1027M1026 896.5H1029M1034 896.5H1037M1036 896.5H1039M1044 896.5H1047M1046 896.5H1049M1054 896.5H1057M1067 896.5H1070M1075 896.5H1078M1087 896.5H1090M1095 896.5H1098" stroke="#009900" stroke-width="1" fill="none" shape-rendering="crispEdges"/>
<g fill="#009900"><path d="M169 892L176 892L173.5 899.2Z"/><path d="M179 892L186 892L183.5 899.2Z"/><path d="M189 892L196 892L193.5 899.2Z"/><path d="M199 892L206 892L203.5 899.2Z"/><path d="M210 892L217 892L214.5 899.2Z"/><path d="M220 892L227 892L224.5 899.2Z"/><path d="M230 892L237 892L234.5 899.2Z"/><path d="M240 892L247 892L244.5 899.2Z"/><path d="M250 892L257 892L254.5 899.2Z"/><path d="M261 892L268 892L265.5 899.2Z"/><path d="M271 892L278 892L275.5 899.2Z"/><path d="M281 892L288 892L285.5 899.2Z"/><path d="M291 892L298 892L295.5 899.2Z"/><path d="M302 892L309 892L306.5 899.2Z"/><path d="M312 892L319 892L316.5 899.2Z"/><path d="M322 892L329 892L326.5 899.2Z"/><path d="M332 892L339 892L336.5 899.2Z"/><path d="M342 892L349 892L346.5 899.2Z"/><path d="M353 891L360 891L357.5 898.2Z"/><path d="M363 891L370 891L367.5 898.2Z"/><path d="M373 891L380 891L377.5 898.2Z"/><path d="M383 891L390 891L387.5 898.2Z"/><path d="M394 892L401 892L398.5 899.2Z"/><path d="M404 890L411 890L408.5 897.2Z"/><path d="M414 890L421 890L418.5 897.2Z"/><path d="M424 889L431 889L428.5 896.2Z"/><path d="M434 889L441 889L438.5 896.2Z"/><path d="M445 888L452 888L449.5 895.2Z"/><path d="M455 887L462 887L459.5 894.2Z"/><path d="M465 885L472 885L469.5 892.2Z"/><path d="M475 883L482 883L479.5 890.2Z"/><path d="M485 881L492 881L489.5 888.2Z"/><path d="M496 877L503 877L500.5 884.2Z"/><path d="M506 871L513 871L510.5 878.2Z"/><path d="M516 865L523 865L520.5 872.2Z"/><path d="M526 856L533 856L530.5 863.2Z"/><path d="M537 844L544 844L541.5 851.2Z"/><path d="M547 829L554 829L551.5 836.2Z"/><path d="M557 810L564 810L561.5 817.2Z"/><path d="M567 789L574 789L571.5 796.2Z"/><path d="M577 765L584 765L581.5 772.2Z"/><path d="M588 740L595 740L592.5 747.2Z"/><path d="M598 715L605 715L602.5 722.2Z"/><path d="M608 695L615 695L612.5 702.2Z"/><path d="M618 684L625 684L622.5 691.2Z"/><path d="M628 707L635 707L632.5 714.2Z"/><path d="M639 794L646 794L643.5 801.2Z"/><path d="M649 841L656 841L653.5 848.2Z"/><path d="M659 865L666 865L663.5 872.2Z"/><path d="M669 877L676 877L673.5 884.2Z"/><path d="M680 883L687 883L684.5 890.2Z"/><path d="M690 887L697 887L694.5 894.2Z"/><path d="M700 888L707 888L704.5 895.2Z"/><path d="M710 889L717 889L714.5 896.2Z"/><path d="M720 890L727 890L724.5 897.2Z"/><path d="M731 891L738 891L735.5 898.2Z"/><path d="M741 891L748 891L745.5 898.2Z"/><path d="M751 891L758 891L755.5 898.2Z"/><path d="M761 892L768 892L765.5 899.2Z"/><path d="M772 892L779 892L776.5 899.2Z"/><path d="M782 892L789 892L786.5 899.2Z"/><path d="M792 892L799 892L796.5 899.2Z"/><path d="M802 892L809 892L806.5 899.2Z"/><path d="M812 892L819 892L816.5 899.2Z"/><path d="M823 892L830 892L827.5 899.2Z"/><path d="M833 892L840 892L837.5 899.2Z"/><path d="M843 892L850 892L847.5 899.2Z"/><path d="M853 892L860 892L857.5 899.2Z"/><path d="M863 892L870 892L867.5 899.2Z"/><path d="M874 892L881 892L878.5 899.2Z"/><path d="M884 892L891 892L888.5 899.2Z"/><path d="M894 892L901 892L898.5 899.2Z"/><path d="M904 892L911 892L908.5 899.2Z"/><path d="M915 892L922 892L919.5 899.2Z"/><path d="M925 892L932 892L929.5 899.2Z"/><path d="M935 892L942 892L939.5 899.2Z"/><path d="M945 892L952 892L949.5 899.2Z"/><path d="M955 892L962 892L959.5 899.2Z"/><path d="M966 892L973 892L970.5 899.2Z"/><path d="M976 892L983 892L980.5 899.2Z"/><path d="M986 892L993 892L990.5 899.2Z"/><path d="M996 892L1003 892L1000.5 899.2Z"/><path d="M1007 892L1014 892L1011.5 899.2Z"/><path d="M1017 892L1024 892L1021.5 899.2Z"/><path d="M1027 892L1034 892L1031.5 899.2Z"/><path d="M1037 892L1044 892L1041.5 899.2Z"/><path d="M1047 892L1054 892L1051.5 899.2Z"/><path d="M1068 892L1075 892L1072.5 899.2Z"/><path d="M1088 892L1095 892L1092.5 899.2Z"/></g>
<rect x="599" y="105" width="87" height="148" fill="#000"/>
<rect x="593" y="99" width="91" height="151" fill="#000"/>
<rect x="594" y="100" width="88" height="149" fill="#fff"/>
<rect x="595" y="101" width="86" height="147" fill="#f2f2f2"/>
<g font-size="18.9" font-weight="bold">
<text transform="translate(604.5 117.0) scale(1 1.06)">Electron</text>
<text transform="translate(604.5 142.0) scale(1 1.06)">Muon</text>
<text transform="translate(604.5 167.0) scale(1 1.06)">Pion</text>
<text transform="translate(604.5 192.0) scale(1 1.06)">Kaon</text>
<text transform="translate(604.5 217.0) scale(1 1.06)">Proton</text>
<text transform="translate(604.5 242.0) scale(1 1.06)">Ghost</text>
</g>
<path d="M597.7 108.8L598.3 108.8L601.2 115.2L594.8 115.2Z" fill="#ff0000"/>
<g fill="#0000ff"><path d="M597.25 132.40L599.75 132.40L602.20 134.95L602.20 137.45L599.75 140.00L597.25 140.00L594.80 137.45L594.80 134.95Z"/></g>
<g fill="#009900"><path d="M594 157L601 157L598.5 164.2Z"/></g>
<g fill="#990099" shape-rendering="crispEdges"><rect x="594" y="182" width="6" height="6"/></g>
<g fill="#66cccc" shape-rendering="crispEdges"><path d="M596 207h3v2h2v3h-2v2h-3v-2h-2v-3h2z"/></g>
<g fill="#000000" shape-rendering="crispEdges"><path d="M598 233h1v1h-1zM597 234h2v1h-2zM596 235h4v3h-4zM597 238h2v1h-2z"/></g>
</svg>
</body></html>
